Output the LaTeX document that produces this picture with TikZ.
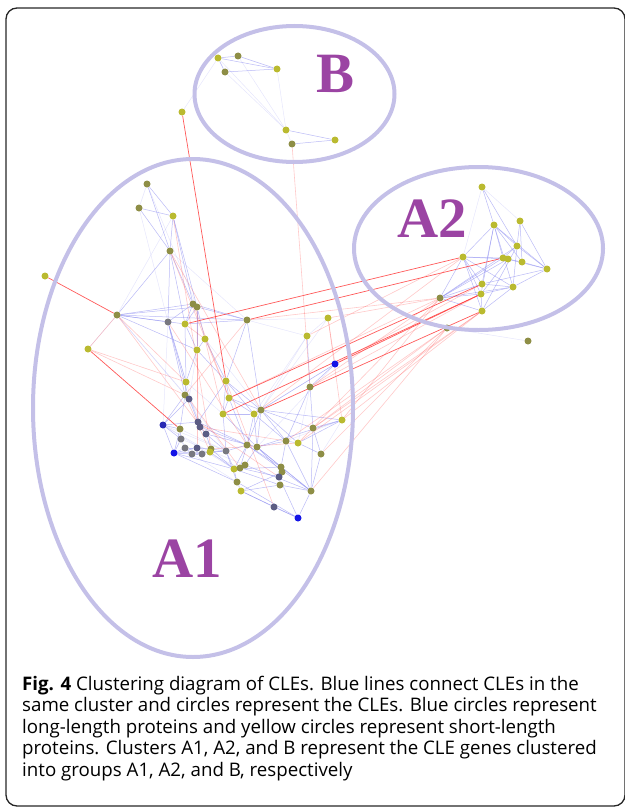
\documentclass[tikz,border=0pt]{standalone}
\usepackage{fontspec}
\setmainfont{Liberation Serif}
\newfontfamily\capfont{Open Sans}
\usetikzlibrary{backgrounds}
\definecolor{yel}{RGB}{186,186,48}
\definecolor{olv}{RGB}{142,142,70}
\definecolor{gry}{RGB}{120,120,128}
\definecolor{gbl}{RGB}{92,92,132}
\definecolor{blu}{RGB}{20,20,230}
\definecolor{dblu}{RGB}{40,40,180}
\definecolor{ring}{RGB}{196,192,232}
\definecolor{lbl}{RGB}{155,68,163}
\definecolor{edgeblue}{RGB}{140,140,240}
\definecolor{edgered}{RGB}{255,60,60}
\tikzset{
  dot/.style={circle, inner sep=0pt, minimum size=7pt},
  bl/.style={draw=edgeblue, line width=.5pt, opacity=.6},
  fb/.style={draw=edgeblue, line width=.5pt, opacity=.22},
  rd/.style={draw=edgered, line width=.7pt, opacity=.85},
  pk/.style={draw=edgered, line width=.6pt, opacity=.28},
  grp/.style={font=\bfseries\fontsize{57}{57}\selectfont, text=lbl, inner sep=0pt},
  captxt/.style={font=\capfont\fontsize{18.7}{21}\selectfont, inner sep=0pt, anchor=base west}
}
\begin{document}
\begin{tikzpicture}[x=1pt, y=-1pt]
\useasboundingbox (0,0) rectangle (624,808);
\draw[line width=1.3pt, black!85, rounded corners=11pt] (6,8) rectangle (625,806);
% CLE nodes
\foreach \n/\x/\y/\c in {
  b1/218/58/yel, b2/238/56/olv, b3/225/72/olv, b4/277/69/yel, b5/286/130/yel,
  b6/292/144/olv, b7/335/140/yel, x1/182/112/yel,
  c1/482/187/yel, c2/494/225/yel, c3/520/221/yel, c4/517/246/yel, c5/503/258/yel,
  c6/508/259/yel, c7/522/262/yel, c8/547/269/yel, c9/463/257/yel, c10/482/284/yel,
  c11/481/294/yel, c12/513/287/yel, c13/440/298/olv, c14/482/311/yel, c15/447/328/olv,
  o1/528/341/olv,
  n1/147/184/olv, n2/139/208/olv, n3/173/216/yel, n4/170/251/olv, n5/45/276/yel,
  n6/117/315/olv, n7/193/304/olv, n8/197/307/olv, n9/168/322/gry, n10/185/324/yel,
  n11/247/320/olv, n12/328/318/yel, n13/88/349/yel, n14/205/339/yel, n15/197/350/yel,
  n16/307/336/yel, n17/335/364/blu, n18/186/382/yel, n19/226/381/yel, n20/310/387/olv,
  n21/185/395/olv, n22/189/399/gbl, n23/229/398/yel, n24/223/414/yel, n25/254/414/yel,
  n26/261/410/olv, n27/342/420/yel, n28/163/425/dblu, n29/198/422/gbl, n30/200/427/gbl,
  n31/206/434/gbl, n32/180/429/olv, n33/313/428/olv, n34/181/439/gry, n35/185/448/gry,
  n36/197/448/gbl, n37/211/449/olv, n38/210/452/yel, n39/202/454/gry, n40/192/454/gry,
  n41/174/453/blu, n42/226/451/gry, n43/247/445/olv, n44/257/447/olv, n45/286/441/olv,
  n46/298/443/yel, n47/321/454/olv, n48/234/469/yel, n49/240/468/olv, n50/245/465/olv,
  n51/281/467/olv, n52/282/472/olv, n53/279/477/gbl, n54/280/485/olv, n55/237/482/olv,
  n56/241/491/yel, n57/311/491/olv, n58/274/507/gbl, n59/298/518/blu}
  \node[dot, fill=\c] (\n) at (\x,\y) {};
\begin{pgfonlayer}{background}
\foreach \a/\b in {n1/n3, n2/n3, n1/n4, n2/n4, n3/n4, n3/n8, n3/n7, n4/n6, n4/n7, n4/n9,
  n4/n10, n6/n7, n6/n8, n6/n9, n6/n10, n6/n11, n7/n8, n7/n9, n7/n10, n8/n10, n8/n11,
  n7/n11, n8/n14, n9/n21, n9/n22, n9/n18, n10/n15, n8/n15, n14/n15, n14/n19, n15/n18,
  n15/n19, n10/n18, n18/n21, n21/n22, n22/n28, n21/n28, n28/n32, n28/n41, n28/n34,
  n28/n29, n32/n41, n41/n34, n41/n35, n41/n40, n41/n36, n41/n38, n41/n48, n32/n34,
  n34/n35, n35/n40, n29/n30, n30/n31, n31/n37, n37/n42, n31/n42, n29/n19, n19/n23,
  n19/n24, n23/n24, n23/n25, n24/n25, n25/n26, n19/n26, n26/n45, n26/n43, n26/n33,
  n26/n27, n24/n42, n42/n43, n43/n44, n44/n45, n45/n46, n46/n47, n46/n27, n27/n33,
  n33/n47, n27/n44, n43/n48, n48/n55, n55/n56, n56/n58, n58/n59, n57/n59, n57/n54,
  n53/n59, n54/n56, n51/n57, n51/n45, n50/n44, n49/n43, n48/n51, n52/n56, n56/n59,
  n55/n59, n42/n48, n44/n57, n45/n57, n47/n57, n33/n57, n20/n45, n20/n33, n16/n20,
  n17/n25, n17/n20, n26/n44, n43/n51, n44/n52, n48/n54, n49/n53, n50/n57, n25/n43,
  n25/n44, n38/n42, n38/n48, n37/n48, n22/n30, n21/n32, n10/n11, n11/n26, n11/n19,
  n6/n15, n23/n26, n36/n37, n40/n42, n39/n40, n35/n36, n41/n55, n29/n43, n31/n44,
  n23/n43, n24/n44, n19/n25, n25/n45, n26/n46, n44/n51, n43/n57, n42/n55, n30/n43,
  c1/c2, c1/c4, c2/c4, c2/c5, c2/c7, c2/c8, c2/c9, c2/c10, c2/c12, c3/c4, c3/c7,
  c4/c5, c4/c8, c4/c12, c5/c7, c5/c8, c9/c5, c9/c10, c9/c11, c9/c13, c9/c14, c10/c12,
  c10/c8, c11/c12, c13/c10, c13/c11, c13/c12, c13/c5, c14/c13, c14/c11, c14/c4,
  c6/c11, c6/c13, c12/c8, c7/c8, c3/c8, c9/c6, c14/c12, c2/c11, c4/c13, c9/c12,
  b1/b2, b1/b3, b1/b4, b2/b4, b3/b4, b6/b7, b5/b7}
  \draw[bl] (\a) -- (\b);
\foreach \a/\b in {n1/n2, n2/n9, n1/n8, n3/n6, n13/n6, n4/n11, n12/n11, n12/n16,
  n16/n26, n17/n26, n17/n44, n20/n46, n27/n45, n27/n47, n11/n16, n6/n22, n6/n21,
  n9/n28, n28/n42, n28/n48, n28/n38, n32/n42, n12/n26, n16/n25, n15/n22, n9/n29,
  x1/b1, n36/n49, n40/n55, n34/n50, n21/n42, n18/n24, n14/n26, n22/n31,
  b3/b5, b1/b5, b4/b5, b2/b5, b5/b6, c1/c9, c1/c3, c15/o1}
  \draw[fb] (\a) -- (\b);
\foreach \a/\b in {x1/n19, n5/n6, n13/n32, c9/n10, c5/n11, n24/c11, n26/c14,
  n17/c11, c10/n23}
  \draw[rd] (\a) -- (\b);
\foreach \a/\b in {n6/n13, n6/n31, n6/n18, n13/n21, b6/n20, n4/n23, n4/n26, n12/c13,
  n16/c9, n27/c13, n33/c14, n47/c15, n46/c13, n57/c15, n20/c11, n12/n17, n17/c10,
  n23/c13, n25/c9, n11/c13, n3/n37, n7/n23, n10/n14, n14/n24, n9/n43, n13/n18,
  n15/n36, n21/n38, n22/n49, n29/n53, n30/n45, n37/n46, n45/c15, n33/c15, n8/n29,
  n11/n21, n12/n27, n19/n58, n27/c14, n20/c13, n46/c14}
  \draw[pk] (\a) -- (\b);
\end{pgfonlayer}
% cluster rings
\draw[ring, line width=4pt] (294.5,94) ellipse [x radius=100, y radius=68];
\draw[ring, line width=4pt] (193,408) ellipse [x radius=160, y radius=249];
\draw[ring, line width=4pt] (478.5,248.5) ellipse [x radius=124.5, y radius=81.5];
\node[grp] (gB) at (336,74) {B};
\node[grp] (gA2) at (432,219) {A2};
\node[grp] (gA1) at (187,559) {A1};
% caption
\node[captxt] (cap1) at (22,690) {\textbf{Fig. 4} Clustering diagram of CLEs. Blue lines connect CLEs in the};
\node[captxt] (cap2) at (22,711.5) {same cluster and circles represent the CLEs. Blue circles represent};
\node[captxt] (cap3) at (22,733) {long-length proteins and yellow circles represent short-length};
\node[captxt] (cap4) at (22,754.5) {proteins. Clusters A1, A2, and B represent the CLE genes clustered};
\node[captxt] (cap5) at (22,776) {into groups A1, A2, and B, respectively};
\end{tikzpicture}
\end{document}
